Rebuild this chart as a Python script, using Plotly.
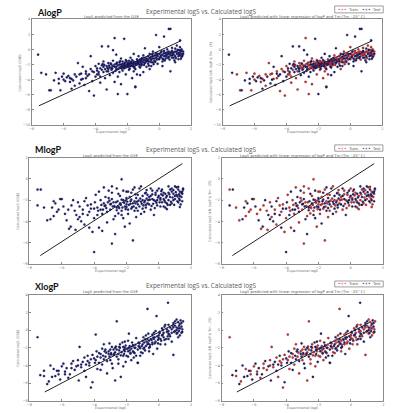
import plotly.graph_objects as go

W, H = 409, 413

# ---------------- data (experimental logS, calculated logS) ----------------
alogp_train = [
    (-7.1, -3.3), (-6.9, -5.4), (-6.5, -3.1), (-6.2, -5.4), (-6.0, -4.0), (-5.7, -3.5), (-5.6, -4.3),
    (-5.5, -3.9), (-5.3, -4.8), (-5.1, -1.8), (-4.9, -3.2), (-4.8, -3.9), (-4.6, -2.9), (-4.4, -5.5),
    (-4.3, -2.6), (-4.1, -6.1), (-4.0, -2.2), (-3.9, -2.8), (-3.8, -3.3), (-3.7, -4.4), (-3.6, -2.1),
    (-3.5, -1.6), (-3.4, -3.8), (-3.3, -5.3), (-3.2, -1.8), (-3.1, -2.4), (-3.0, -2.0), (-2.9, -1.5),
    (-2.8, 1.5), (-2.8, -4.3), (-2.7, -1.9), (-2.6, -2.1), (-2.6, -5.9), (-2.5, -2.4), (-2.4, -1.2),
    (-2.4, -4.6), (-2.3, -1.6), (-2.2, -1.9), (-2.1, -1.4), (-2.1, -3.3), (-2.0, -2.3), (-1.9, -1.5),
    (-1.9, -2.7), (-1.8, -1.7), (-1.7, -1.9), (-1.7, -3.8), (-1.6, -2.3), (-1.5, -1.8), (-1.5, -4.9),
    (-1.4, -1.3), (-1.4, -3.3), (-1.3, -1.9), (-1.2, -1.7), (-1.1, -1.2), (-1.1, -2.1), (-1.0, -0.8),
    (-0.9, -1.1), (-0.8, -1.5), (-0.7, -0.9), (-0.7, -1.9), (-0.6, -1.6), (-0.5, -1.4), (-0.4, -0.3),
    (-0.4, -1.7), (-0.3, -1.5), (-0.2, -0.5), (-0.1, -0.9), (0.0, -1.3), (0.0, 0.3), (0.1, -0.4),
    (0.2, -0.7), (0.3, -0.2), (0.4, -0.5), (0.5, 0.0), (0.6, -0.3), (0.7, -0.5), (0.8, 0.2),
    (0.8, -0.8), (0.9, -0.4), (1.0, -0.3), (1.1, 0.5), (1.2, -0.1), (1.3, 0.3), (1.4, 0.0), (1.5, -0.3),
    (-3.6, -2.7), (-3.3, -2.9), (-3.0, -2.4), (-2.8, -2.0), (-2.6, -2.6), (-2.4, -2.3), (-2.2, -2.1),
    (-2.0, -2.0), (-1.9, -1.8), (-1.7, -2.2), (-1.5, -2.1), (-1.3, -1.6), (-1.2, -2.0), (-1.0, -1.7),
    (-0.8, -1.2), (-0.6, -1.1), (-0.4, -0.9), (-0.2, -0.8), (0.1, -0.8), (0.3, -0.5), (0.5, -0.4),
    (0.7, -0.8), (0.9, -0.7), (1.1, -0.3), (1.2, -0.5), (1.3, -0.1), (1.4, -0.6), (-4.6, -3.8),
    (-5.0, -3.3), (-3.9, -3.3),
    (-3.45, -2.05), (-3.15, -2.15), (-2.95, -2.55), (-2.65, -1.75), (-2.35, -2.55), (-2.15, -1.75),
    (-1.95, -2.15), (-1.75, -1.65), (-1.55, -2.45), (-1.35, -1.75), (-1.15, -1.45), (-0.95, -2.05),
    (-0.75, -1.45), (-0.55, -1.25), (-0.35, -1.95), (-0.15, -1.35), (0.05, -1.05), (0.25, -1.35),
    (0.45, -0.95), (0.65, -1.35), (0.85, -0.55), (1.05, -1.15), (1.25, -0.65), (1.45, -0.85),
    (-4.2, -2.9), (-3.7, -3.6), (-5.3, -3.3), (-6.0, -3.2), (-1.6, -2.9), (-0.6, -2.6),
]
alogp_test = [
    (-7.6, -0.7), (-7.4, -3.1), (-6.8, -5.4), (-6.6, -4.1), (-6.3, -4.5), (-6.1, -3.6), (-5.9, -4.2),
    (-5.8, -3.7), (-5.5, -5.2), (-5.4, -4.1), (-5.2, -3.6), (-5.0, -4.5), (-4.8, -2.3), (-4.7, -4.7),
    (-4.5, -3.5), (-4.3, -0.9), (-4.2, -4.2), (-4.1, -3.0), (-4.0, -3.6), (-3.8, -1.9), (-3.7, -2.5),
    (-3.6, 0.4), (-3.5, -3.0), (-3.4, -2.6), (-3.3, -2.2), (-3.2, 0.4), (-3.2, -2.9), (-3.1, -3.4),
    (-3.0, -2.7), (-2.9, -0.1), (-2.9, -3.1), (-2.8, -2.3), (-2.7, -0.7), (-2.7, -2.6), (-2.6, -3.6),
    (-2.5, -1.7), (-2.5, -3.0), (-2.4, -2.0), (-2.3, -2.2), (-2.3, -2.8), (-2.2, 1.4), (-2.2, -2.5),
    (-2.1, -2.1), (-2.0, -1.8), (-2.0, -5.9), (-1.9, -2.0), (-1.8, -1.1), (-1.8, -2.2), (-1.7, -1.4),
    (-1.6, -1.6), (-1.6, -0.6), (-1.5, -5.0), (-1.5, -2.6), (-1.4, -2.0), (-1.3, -1.5), (-1.3, -0.9),
    (-1.2, -2.4), (-1.1, -1.6), (-1.0, -1.4), (-1.0, -3.0), (-0.9, 0.15), (-0.9, -1.8), (-0.8, -2.3),
    (-0.7, -1.3), (-0.6, -0.6), (-0.5, -1.0), (-0.5, -2.2), (-0.4, -1.2), (-0.3, -0.8), (-0.2, 1.9),
    (-0.2, -1.1), (-0.1, -1.9), (0.0, -0.6), (0.1, -1.0), (0.2, -1.6), (0.3, 1.7), (0.3, -0.9),
    (0.4, -1.2), (0.5, -0.7), (0.6, 2.7), (0.6, -1.0), (0.7, 2.7), (0.7, -2.9), (0.8, -0.2),
    (0.9, -1.1), (1.0, 0.1), (1.0, -1.7), (1.1, -0.6), (1.2, -0.9), (1.3, -0.4), (1.3, 1.2), (1.4, -0.2),
    (-3.5, -2.3), (-3.2, -2.6), (-2.9, -2.2), (-2.7, -2.3), (-2.5, -2.0), (-2.3, -1.9), (-2.1, -2.4),
    (-1.9, -2.3), (-1.8, -1.9), (-1.6, -1.9), (-1.4, -1.6), (-1.2, -1.3), (-1.1, -1.9), (-0.9, -1.4),
    (-0.7, -1.6), (-0.5, -1.7), (-0.3, -1.2), (-0.1, -0.6), (0.2, -1.2), (0.4, -0.8), (0.6, -0.6),
    (0.8, -1.1), (1.0, -0.9), (1.2, -1.3), (1.3, -0.8), (1.4, -1.0), (1.5, -0.6), (-4.4, -3.3),
    (-3.8, -3.0), (-4.9, -4.0),
    (-3.55, -1.95), (-3.25, -2.45), (-3.05, -1.85), (-2.75, -2.85), (-2.45, -1.55), (-2.25, -2.35),
    (-2.05, -1.55), (-1.85, -2.55), (-1.65, -2.15), (-1.45, -1.95), (-1.25, -2.25), (-1.05, -1.15),
    (-0.85, -1.65), (-0.65, -2.15), (-0.45, -0.65), (-0.25, -1.65), (-0.05, -1.25), (0.15, -0.25),
    (0.35, -1.45), (0.55, -1.15), (0.75, -0.35), (0.95, -1.45), (1.15, -0.05), (1.35, -1.25),
    (-4.6, -3.2), (-3.9, -2.5), (-5.6, -3.8), (-6.3, -3.9), (-1.2, -3.4), (0.2, -2.2),
]

mlogp_train = [
    (-7.5, -1.0), (-7.1, -2.7), (-6.9, -3.9), (-6.5, -3.5), (-6.5, -2.1), (-6.2, -2.9), (-6.0, -1.9),
    (-5.8, -3.3), (-5.55, -4.7), (-5.4, -2.5), (-5.2, -3.0), (-5.15, -4.8), (-5.0, -2.2), (-4.9, -3.6),
    (-4.7, -2.9), (-4.6, -4.3), (-4.5, -1.8), (-4.3, -3.1), (-4.2, -2.4), (-4.1, -5.0), (-4.0, -3.7),
    (-3.9, -1.5), (-3.8, -2.7), (-3.7, -4.6), (-3.6, -2.0), (-3.5, -3.3), (-3.4, -0.8), (-3.3, -2.5),
    (-3.2, -4.1), (-3.1, -1.8), (-3.0, -2.9), (-2.9, -6.1), (-2.9, -1.3), (-2.8, -2.2), (-2.7, -3.5),
    (-2.6, -0.9), (-2.5, -2.6), (-2.4, -1.6), (-2.3, -0.03), (-2.3, -3.0), (-2.2, -2.0), (-2.1, -4.5),
    (-2.0, -1.2), (-2.0, -2.4), (-1.9, -3.3), (-1.8, -1.7), (-1.7, -2.8), (-1.6, -5.8), (-1.6, -1.0),
    (-1.5, -2.1), (-1.4, -3.6), (-1.3, -1.5), (-1.2, -2.6), (-1.1, -0.7), (-1.0, -2.0), (-0.9, -3.1),
    (-0.8, -1.3), (-0.7, -2.3), (-0.6, -1.7), (-0.5, -2.9), (-0.4, -1.1), (-0.3, -2.0), (-0.2, -1.5),
    (-0.1, -2.5), (0.0, -0.9), (0.1, -1.8), (0.2, -2.2), (0.3, -1.3), (0.4, -2.7), (0.5, -1.6),
    (0.6, -2.0), (0.7, -1.0), (0.8, -2.3), (0.9, -1.4), (1.0, -1.9), (1.1, -0.8), (1.2, -2.2),
    (1.3, -1.2), (1.4, -1.7), (1.5, -1.0),
    (-2.75, -2.55), (-2.45, -2.75), (-2.15, -2.25), (-1.85, -2.45), (-1.55, -2.6), (-1.25, -2.05),
    (-0.95, -2.5), (-0.65, -2.0), (-0.35, -2.35), (-0.05, -1.75), (0.25, -1.55), (0.55, -2.45),
    (0.85, -1.75), (1.15, -1.65), (1.35, -2.4), (-3.25, -2.75), (-3.55, -2.45), (-2.05, -2.85),
    (-1.45, -1.45), (-0.75, -1.05),
    (-3.05, -2.05), (-2.65, -2.2), (-2.35, -2.45), (-2.05, -2.05), (-1.75, -2.35), (-1.45, -2.3),
    (-1.15, -1.85), (-0.85, -2.05), (-0.55, -1.95), (-0.25, -2.75), (0.05, -2.2), (0.35, -2.05),
    (0.65, -1.45), (0.95, -2.45), (1.25, -1.85), (1.45, -1.4), (-3.75, -3.0), (-4.4, -2.5),
    (-2.5, -3.25), (-1.3, -3.0), (-0.4, -1.45), (0.15, -1.15), (0.9, -1.05), (1.2, -0.75),
    (-5.6, -2.9), (-6.3, -3.1), (-2.9, -0.7), (-1.9, -1.2), (0.5, -2.85), (1.3, -2.65),
]
mlogp_test = [
    (-7.3, -1.0), (-7.5, -2.5), (-6.7, -3.8), (-6.4, -2.3), (-6.1, -1.9), (-5.9, -2.6), (-5.7, -3.9),
    (-5.45, -4.5), (-5.3, -2.0), (-5.1, -3.4), (-4.9, -2.6), (-4.8, -4.0), (-4.6, -2.1), (-4.4, -3.4),
    (-4.3, -4.6), (-4.2, -2.8), (-4.0, -6.9), (-3.95, -2.2), (-3.8, -3.4), (-3.7, -1.2), (-3.6, -2.9),
    (-3.5, -4.9), (-3.4, -2.3), (-3.3, -1.7), (-3.2, -3.1), (-3.0, -2.4), (-2.9, -1.9), (-2.8, -3.8),
    (-2.7, -5.2), (-2.6, -2.7), (-2.5, -1.4), (-2.4, -2.3), (-2.3, -3.4), (-2.2, -1.1), (-2.1, -2.6),
    (-2.0, -1.8), (-1.9, -2.9), (-1.8, -4.2), (-1.7, -1.3), (-1.6, -2.3), (-1.5, -3.0), (-1.4, -1.8),
    (-1.3, -2.4), (-1.2, -0.9), (-1.1, -3.3), (-1.0, -1.6), (-0.9, -2.2), (-0.8, -2.7), (-0.7, -1.5),
    (-0.6, -2.4), (-0.5, -0.9), (-0.4, -1.9), (-0.3, -3.4), (-0.2, -1.3), (-0.1, -2.0), (0.0, -1.6),
    (0.1, -2.6), (0.2, -1.0), (0.3, -1.9), (0.4, -1.4), (0.5, -2.3), (0.6, -0.7), (0.7, -1.7),
    (0.8, -1.2), (0.9, -2.0), (1.0, -0.7), (1.1, -1.5), (1.2, -1.0), (1.3, -2.0), (1.4, -1.3), (1.5, -0.9),
    (-2.85, -2.6), (-2.55, -2.1), (-2.25, -2.7), (-1.95, -2.15), (-1.65, -2.65), (-1.35, -2.15),
    (-1.05, -2.35), (-0.75, -1.85), (-0.45, -2.55), (-0.15, -2.25), (0.15, -1.45), (0.45, -1.75),
    (0.75, -2.15), (1.05, -1.25), (1.25, -1.45), (-3.15, -2.2), (-3.45, -2.9), (-1.75, -2.1),
    (-0.85, -1.35), (1.45, -2.1),
    (-3.35, -2.55), (-2.95, -2.35), (-2.6, -2.95), (-2.3, -1.95), (-2.0, -2.65), (-1.7, -1.95),
    (-1.4, -2.75), (-1.1, -2.15), (-0.8, -2.45), (-0.5, -1.6), (-0.2, -2.1), (0.1, -1.95),
    (0.4, -2.2), (0.7, -2.45), (1.0, -1.6), (1.3, -1.6), (-4.0, -2.8), (-4.7, -3.3),
    (-2.2, -3.7), (-1.0, -2.8), (-0.1, -1.1), (0.3, -2.6), (0.8, -0.9), (1.45, -1.2),
    (-5.0, -3.8), (-6.6, -2.7), (-3.1, -1.1), (-1.5, -0.8), (0.6, -1.3), (1.15, -2.1),
]

xlogp_train = [
    (-7.5, -0.8), (-7.1, -5.2), (-6.8, -5.8), (-6.5, -4.4), (-6.2, -5.0), (-6.0, -4.1), (-5.8, -4.7),
    (-5.6, -5.4), (-5.4, -3.8), (-5.2, -4.5), (-5.0, -3.4), (-4.9, -1.9), (-4.8, -4.2), (-4.6, -3.1),
    (-4.5, -5.3), (-4.3, -3.7), (-4.2, -6.5), (-4.1, -2.8), (-3.9, -0.5), (-3.9, -3.4), (-3.8, -4.4),
    (-3.6, -2.7), (-3.5, -3.9), (-3.4, -1.6), (-3.3, -3.0), (-3.2, -4.9), (-3.1, -2.4), (-3.0, -3.4),
    (-2.9, -1.9), (-2.8, -2.8), (-2.7, -5.7), (-2.6, 1.0), (-2.6, -2.2), (-2.5, -3.3), (-2.4, -1.6),
    (-2.3, -2.5), (-2.2, -4.1), (-2.1, -2.0), (-2.0, -2.9), (-1.9, -1.2), (-1.8, -2.3), (-1.7, -3.4),
    (-1.6, -1.7), (-1.5, -2.6), (-1.4, -0.9), (-1.3, -3.7), (-1.2, -1.9), (-1.1, -2.5), (-1.0, -1.2),
    (-0.9, -2.0), (-0.8, -0.6), (-0.7, 2.4), (-0.7, -1.6), (-0.6, -2.4), (-0.5, -1.0), (-0.4, -1.6),
    (-0.3, -0.3), (-0.2, -1.3), (-0.1, -2.1), (0.0, -0.6), (0.1, -1.0), (0.2, 0.2), (0.3, -0.8),
    (0.4, -1.6), (0.5, -0.2), (0.6, 0.6), (0.7, -0.7), (0.8, 0.1), (0.9, -2.8), (1.0, 0.5), (1.1, -0.4),
    (1.2, 0.9), (1.3, 0.2), (1.4, -0.3), (1.5, 1.0),
    (-3.0, -2.2), (-2.7, -2.5), (-2.4, -2.0), (-2.1, -2.4), (-1.8, -1.8), (-1.5, -2.0), (-1.2, -1.5),
    (-0.9, -1.4), (-0.6, -1.2), (-0.3, -1.0), (0.0, -0.9), (0.3, -0.3), (0.6, -0.1), (0.9, 0.3),
    (1.2, 0.2), (-3.6, -3.1), (-4.2, -3.3), (-5.0, -4.0), (-1.6, -2.4), (-2.2, -2.9),
    (-3.25, -2.55), (-2.95, -2.75), (-2.65, -1.85), (-2.35, -2.85), (-2.05, -1.75), (-1.75, -2.65),
    (-1.45, -1.65), (-1.15, -2.05), (-0.85, -1.05), (-0.55, -1.65), (-0.25, -1.5), (0.05, -0.35),
    (0.35, -1.1), (0.65, -0.5), (0.95, -0.2), (1.25, 0.5), (1.45, 0.1), (-3.8, -3.0), (-4.4, -3.5),
    (-5.4, -4.3), (-6.2, -4.6), (-1.0, -2.6), (-0.4, -0.5), (0.4, 0.6), (1.1, 1.2), (-2.5, -3.8),
    (-1.9, -3.0), (-3.5, -2.1), (0.1, -1.6), (1.3, -0.6),
]
xlogp_test = [
    (-7.33, -5.1), (-7.1, -4.6), (-6.9, -6.1), (-6.7, -4.0), (-6.4, -5.2), (-6.3, -4.6), (-6.1, -5.6),
    (-5.9, -3.8), (-5.7, -4.3), (-5.5, -5.0), (-5.3, -3.5), (-5.1, -4.1), (-4.95, -5.7), (-4.7, -3.6),
    (-4.6, -4.6), (-4.4, -2.9), (-4.3, -4.0), (-4.1, -5.9), (-4.0, -3.2), (-3.85, -2.4), (-3.7, -3.7),
    (-3.6, -4.5), (-3.45, -2.9), (-3.3, -2.2), (-3.2, -3.5), (-3.05, -1.5), (-2.95, -2.6), (-2.85, -4.3),
    (-2.7, -2.0), (-2.6, -3.0), (-2.45, -2.3), (-2.35, -5.3), (-2.25, -1.4), (-2.15, -2.7), (-2.05, -3.6),
    (-1.95, -2.1), (-1.85, -0.4), (-1.75, -2.6), (-1.65, -1.4), (-1.55, -3.1), (-1.45, -2.0), (-1.3, -3.7),
    (-1.25, -1.4), (-1.15, -2.9), (-1.05, -1.8), (-0.95, -0.8), (-0.85, -2.3), (-0.75, -1.3), (-0.65, -0.4),
    (-0.55, -1.9), (-0.45, -1.1), (-0.35, -2.7), (-0.25, -0.8), (-0.14, 1.6), (-0.05, -1.5), (0.05, -0.2),
    (0.15, -1.2), (0.25, -0.5), (0.35, 0.4), (0.45, -1.0), (0.57, 3.1), (0.6, -0.4), (0.7, 0.3),
    (0.8, -1.3), (0.9, 0.8), (1.0, -0.1), (1.1, 0.3), (1.2, -0.8), (1.3, 0.7), (1.4, 0.4), (1.45, -0.2),
    (-3.1, -2.7), (-2.8, -2.2), (-2.5, -2.7), (-2.2, -1.9), (-1.9, -2.4), (-1.6, -1.8), (-1.3, -2.2),
    (-1.0, -1.6), (-0.7, -1.0), (-0.4, -1.4), (-0.1, -0.7), (0.2, -0.6), (0.5, 0.1), (0.8, -0.3),
    (1.1, 0.0), (-3.4, -3.3), (-4.5, -3.9), (-1.7, -2.1), (-0.8, -1.8), (1.35, 1.1),
    (-3.35, -2.4), (-3.05, -3.0), (-2.75, -2.65), (-2.45, -1.9), (-2.15, -2.2), (-1.85, -2.0),
    (-1.55, -2.5), (-1.25, -1.8), (-0.95, -2.1), (-0.65, -1.5), (-0.35, -0.85), (-0.05, -1.1),
    (0.25, 0.0), (0.55, -0.7), (0.85, 0.5), (1.15, -0.3), (1.4, 0.8), (-3.95, -3.7), (-4.8, -3.9),
    (-5.8, -5.0), (-6.6, -5.3), (-1.4, -2.9), (-0.6, -2.0), (0.6, -1.0), (1.0, 1.0), (-2.9, -3.8),
    (-2.1, -1.3), (-3.7, -2.6), (-0.2, -0.1), (1.25, -0.1),
]

# reference lines (start/end) per row
alogp_line_x = [-7.55, 1.38]
alogp_line_y = [-7.45, 1.15]
mlogp_line_x = [-7.33, 1.46]
mlogp_line_y = [-7.23, 1.45]
xlogp_line_x = [-7.05, 1.18]
xlogp_line_y = [-7.0, 0.9]

x_ticks = [-8, -6, -4, -2, 0, 2]
alogp_y_ticks = [-10, -8, -6, -4, -2, 0, 2, 4]
mlogp_y_ticks = [-8, -6, -4, -2, 0, 2]
xlogp_y_ticks = [-8, -6, -4, -2, 0, 2, 4]

row_names = ["AlogP", "MlogP", "XlogP"]
main_title = "Experimental logS vs. Calculated logS"
left_sub = "LogS predicted from the GSE"
right_sub = "LogS predicted with linear regression of logP and Tm (Tm - 25° C)"
x_title = "Experimental logS"
left_ytitle = "Calculated logS (GSE)"
right_ytitle = "Calculated logS (LR, logP & Tm - 25)"
legend_labels = ["Train", "Test"]

# ---------------- layout helpers ----------------
def fx(p):
    return p / W

def fy(p):
    return 1 - p / H

NAVY = "#1b1b86"
RED = "#ee2a2a"
GREY_TXT = "#707070"
FRAME = "#8a8a8a"
MSIZE = 2.2

rows = [
    dict(name=row_names[0], train=alogp_train, test=alogp_test, lx=alogp_line_x, ly=alogp_line_y,
         yt=alogp_y_ticks, L=(29, 190), R=(221.7, 383), top=17.3, bot=124.3,
         name_xy=(33, 10.7), title_y=9.2, sub_y=15.0, xt_y=131.6, leg=(335, 4, 384, 11)),
    dict(name=row_names[1], train=mlogp_train, test=mlogp_test, lx=mlogp_line_x, ly=mlogp_line_y,
         yt=mlogp_y_ticks, L=(26.7, 190), R=(220.7, 383.7), top=157.3, bot=264.3,
         name_xy=(31.5, 149.3), title_y=149.3, sub_y=155.0, xt_y=271.6, leg=(335, 144.3, 383.7, 150.7)),
    dict(name=row_names[2], train=xlogp_train, test=xlogp_test, lx=xlogp_line_x, ly=xlogp_line_y,
         yt=xlogp_y_ticks, L=(26.7, 190), R=(220.7, 384), top=295.7, bot=402.7,
         name_xy=(31.7, 287.3), title_y=286.2, sub_y=292.2, xt_y=410.0, leg=(335, 281.7, 384, 287.7)),
]

fig = go.Figure()
annotations = []
shapes = []
layout_axes = {}

def mk(pts, i):
    return [p[i] for p in pts]

ax_idx = 0
for r in rows:
    for side in ("L", "R"):
        ax_idx += 1
        xa = "x" if ax_idx == 1 else f"x{ax_idx}"
        ya = "y" if ax_idx == 1 else f"y{ax_idx}"
        xkey = "xaxis" if ax_idx == 1 else f"xaxis{ax_idx}"
        ykey = "yaxis" if ax_idx == 1 else f"yaxis{ax_idx}"
        x0, x1 = r[side]
        common = dict(showgrid=False, zeroline=False, showline=True, mirror=True,
                      linecolor=FRAME, linewidth=0.8, ticks="inside", ticklen=2,
                      tickcolor=FRAME, tickwidth=0.6,
                      tickfont=dict(size=3.5, color=GREY_TXT, family="DejaVu Sans"))
        layout_axes[xkey] = dict(domain=[fx(x0), fx(x1)], anchor=ya, range=[-8, 2],
                                 tickvals=x_ticks, ticklabelstandoff=0, **common)
        layout_axes[ykey] = dict(domain=[fy(r["bot"]), fy(r["top"])], anchor=xa,
                                 range=[r["yt"][0], r["yt"][-1]], tickvals=r["yt"], **common)
        mline = dict(width=0.3, color="#101010")
        fig.add_trace(go.Scatter(x=r["lx"], y=r["ly"], mode="lines", xaxis=xa, yaxis=ya,
                                 line=dict(color="#222222", width=1), showlegend=False))
        if side == "L":
            allp = r["train"] + r["test"]
            fig.add_trace(go.Scatter(x=mk(allp, 0), y=mk(allp, 1), mode="markers", xaxis=xa, yaxis=ya,
                                     marker=dict(size=MSIZE, color=NAVY, line=mline), showlegend=False))
        else:
            fig.add_trace(go.Scatter(x=mk(r["train"], 0), y=mk(r["train"], 1), mode="markers",
                                     xaxis=xa, yaxis=ya,
                                     marker=dict(size=MSIZE, color=RED, line=mline), showlegend=False))
            fig.add_trace(go.Scatter(x=mk(r["test"], 0), y=mk(r["test"], 1), mode="markers",
                                     xaxis=xa, yaxis=ya,
                                     marker=dict(size=MSIZE, color=NAVY, line=mline), showlegend=False))
        # subplot title
        annotations.append(dict(xref="paper", yref="paper", x=fx((x0 + x1) / 2), y=fy(r["sub_y"]),
                                text=left_sub if side == "L" else right_sub, showarrow=False,
                                xanchor="center", yanchor="middle", borderpad=0,
                                font=dict(size=3.8, color="#5a5a5a", family="DejaVu Sans")))
        # x title
        annotations.append(dict(xref="paper", yref="paper", x=fx((x0 + x1) / 2), y=fy(r["xt_y"]),
                                text=x_title, showarrow=False, xanchor="center", yanchor="middle",
                                borderpad=0,
                                font=dict(size=3.4, color=GREY_TXT, family="DejaVu Sans")))
        # y title
        annotations.append(dict(xref="paper", yref="paper", x=fx(x0 - 11.5), y=fy((r["top"] + r["bot"]) / 2),
                                text=left_ytitle if side == "L" else right_ytitle, showarrow=False,
                                textangle=-90, xanchor="center", yanchor="middle", borderpad=0,
                                font=dict(size=3.4, color=GREY_TXT, family="DejaVu Sans")))
    # row name
    nx, ny = r["name_xy"]
    annotations.append(dict(xref="paper", yref="paper", x=fx(nx), y=fy(ny), text=f"<b>{r['name']}</b>",
                            showarrow=False, xanchor="left", yanchor="middle", borderpad=0,
                            font=dict(size=9, color="#111111", family="Lato")))
    annotations.append(dict(xref="paper", yref="paper", x=fx(200), y=fy(r["title_y"]), text=main_title,
                            showarrow=False, xanchor="center", yanchor="middle", borderpad=0,
                            font=dict(size=6.4, color="#5a5a5a", family="Open Sans")))
    # manual legend
    lx0, ly0, lx1, ly1 = r["leg"]
    shapes.append(dict(type="rect", xref="paper", yref="paper", x0=fx(lx0), x1=fx(lx1),
                       y0=fy(ly1), y1=fy(ly0), line=dict(color="#777777", width=0.7),
                       fillcolor="white"))
    cy = fy((ly0 + ly1) / 2)
    for k, (lab, col) in enumerate(zip(legend_labels, [RED, NAVY])):
        bx = lx0 + 2 + k * 25
        annotations.append(dict(xref="paper", yref="paper", x=fx(bx), y=cy,
                                text=f"<span style='color:{col}'>•+•</span>", showarrow=False,
                                xanchor="left", yanchor="middle", borderpad=0,
                                font=dict(size=4.2, color=col, family="DejaVu Sans")))
        annotations.append(dict(xref="paper", yref="paper", x=fx(bx + 10), y=cy, text=lab,
                                showarrow=False, xanchor="left", yanchor="middle", borderpad=0,
                                font=dict(size=3.8, color="#555555", family="DejaVu Sans")))

fig.update_layout(width=W, height=H, margin=dict(l=0, r=0, t=0, b=0),
                  paper_bgcolor="white", plot_bgcolor="white", showlegend=False,
                  annotations=annotations, shapes=shapes, **layout_axes)

fig.write_html("out.html")
